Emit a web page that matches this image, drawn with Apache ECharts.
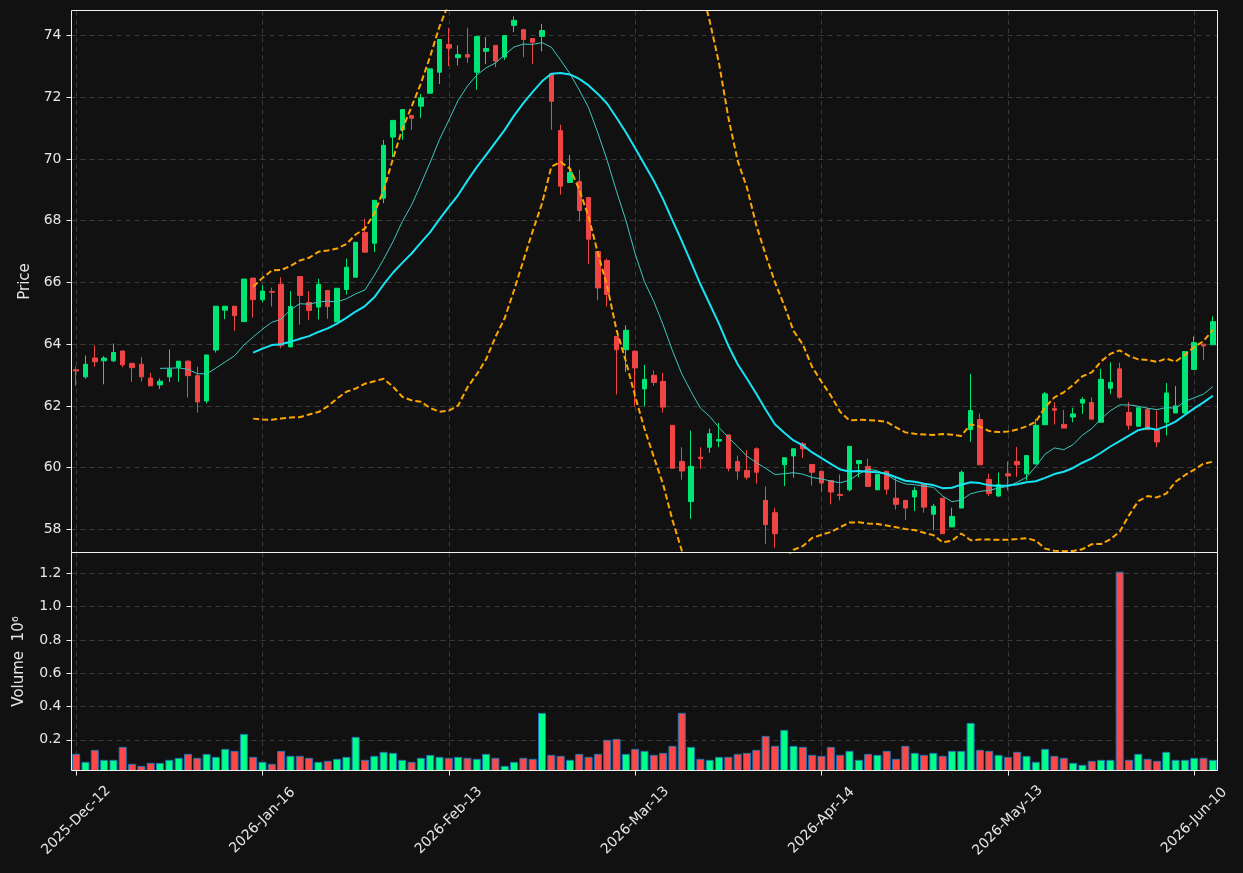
<!DOCTYPE html>
<html>
<head>
<meta charset="utf-8">
<script src="https://cdn.jsdelivr.net/npm/echarts@6/dist/echarts.min.js"></script>
<style>
html, body { margin: 0; padding: 0; background: #111111; }
#chart { width: 1243px; height: 873px; }
</style>
</head>
<body>
<div id="chart"></div>
<script>
// x tick labels, one every 20 sessions
const tickLabels = ['2025-Dec-12', '2026-Jan-16', '2026-Feb-13', '2026-Mar-13', '2026-Apr-14', '2026-May-13', '2026-Jun-10'];
const tickStep = 20;

// daily OHLC
const opens = [
  63.17, 62.94, 63.55, 63.46, 63.46, 63.78, 63.38, 63.35, 62.90, 62.68,
  62.94, 63.25, 63.45, 62.98, 62.16, 63.81, 65.10, 65.23, 64.73, 66.14,
  65.44, 65.71, 65.94, 63.91, 66.19, 65.35, 65.20, 65.74, 64.72, 65.77,
  66.17, 67.62, 67.27, 68.73, 70.71, 70.94, 71.41, 71.71, 72.13, 72.81,
  73.71, 73.28, 73.38, 72.81, 73.49, 73.68, 73.30, 74.33, 74.19, 73.90,
  73.97, 72.76, 70.92, 69.24, 69.27, 68.75, 67.00, 66.71, 64.25, 63.82,
  63.77, 62.55, 62.99, 62.79, 61.37, 60.20, 58.90, 60.34, 60.66, 60.86,
  61.06, 60.20, 59.91, 60.61, 58.94, 58.54, 60.09, 60.38, 60.77, 60.10,
  59.88, 59.58, 59.13, 59.28, 60.13, 60.04, 59.28, 59.88, 59.01, 58.94,
  59.05, 59.48, 58.49, 59.01, 58.08, 58.69, 61.23, 61.56, 59.62, 59.08,
  59.80, 60.20, 59.80, 60.12, 61.39, 61.91, 61.40, 61.64, 62.09, 62.11,
  61.47, 62.57, 63.20, 61.79, 61.34, 61.88, 61.20, 61.47, 61.77, 61.77,
  63.18, 64.00, 63.98
];
const highs = [
  63.27, 63.63, 63.96, 63.61, 64.02, 63.78, 63.38, 63.58, 63.07, 62.89,
  63.83, 63.45, 63.48, 63.27, 63.65, 65.23, 65.23, 65.23, 66.11, 66.14,
  65.91, 65.83, 66.17, 65.72, 66.19, 65.72, 66.12, 65.74, 65.81, 66.77,
  67.30, 68.06, 68.66, 70.62, 71.25, 71.60, 71.41, 72.11, 72.92, 73.87,
  74.25, 73.68, 74.25, 73.97, 73.95, 73.68, 74.00, 74.62, 74.19, 73.90,
  74.38, 72.76, 71.11, 70.13, 69.65, 68.75, 67.00, 66.77, 64.25, 64.61,
  63.80, 63.33, 63.15, 63.07, 61.37, 60.66, 61.20, 60.66, 61.26, 61.45,
  61.06, 60.39, 60.56, 60.66, 59.39, 58.70, 60.32, 60.61, 60.83, 60.10,
  59.88, 59.58, 59.78, 60.69, 60.23, 60.29, 59.78, 59.88, 59.70, 58.94,
  59.37, 59.48, 58.83, 59.01, 58.70, 59.91, 63.04, 61.75, 59.80, 59.84,
  60.20, 60.67, 60.39, 61.58, 62.45, 62.12, 61.87, 61.94, 62.28, 62.28,
  63.20, 63.41, 63.40, 62.12, 61.94, 61.94, 61.85, 62.74, 62.64, 63.76,
  64.25, 64.00, 64.90
];
const lows = [
  62.65, 62.88, 63.27, 62.70, 63.42, 63.25, 62.78, 62.79, 62.65, 62.55,
  62.78, 62.78, 62.27, 61.78, 62.08, 63.73, 64.81, 64.43, 64.73, 64.86,
  65.36, 65.22, 63.87, 63.91, 64.63, 64.79, 64.80, 64.82, 64.72, 65.61,
  66.17, 66.98, 66.98, 68.57, 70.06, 70.62, 70.94, 71.33, 72.13, 72.43,
  73.01, 73.03, 73.11, 72.24, 73.08, 72.97, 73.21, 74.11, 73.30, 73.08,
  73.49, 70.94, 68.84, 69.24, 67.98, 66.60, 65.42, 65.22, 62.37, 63.10,
  61.98, 61.98, 62.65, 61.78, 59.98, 59.61, 58.34, 59.96, 60.48, 60.66,
  59.88, 59.61, 59.61, 59.48, 57.53, 57.40, 59.40, 59.67, 60.31, 59.42,
  59.21, 58.81, 58.94, 59.23, 59.69, 59.39, 59.28, 59.12, 58.64, 58.31,
  58.59, 58.54, 57.97, 57.86, 58.08, 58.69, 60.84, 60.09, 59.08, 59.05,
  59.26, 59.70, 59.58, 60.12, 61.39, 61.40, 61.28, 61.47, 61.74, 61.57,
  61.47, 62.39, 62.23, 61.23, 61.34, 61.23, 60.66, 61.04, 61.77, 61.74,
  63.18, 63.49, 63.98
];
const closes = [
  63.13, 63.35, 63.43, 63.55, 63.73, 63.33, 63.24, 62.94, 62.65, 62.80,
  63.19, 63.45, 62.98, 62.13, 63.65, 65.23, 65.23, 64.92, 66.11, 65.44,
  65.72, 65.68, 63.96, 65.22, 65.58, 65.09, 65.94, 65.22, 65.81, 66.49,
  67.30, 66.98, 68.66, 70.44, 71.25, 71.60, 71.32, 71.98, 72.92, 73.87,
  73.59, 73.38, 73.30, 73.97, 73.58, 73.17, 74.00, 74.49, 73.87, 73.78,
  74.16, 71.87, 69.12, 69.56, 68.33, 67.40, 65.82, 65.61, 63.82, 64.45,
  63.23, 62.86, 62.76, 61.96, 59.98, 59.89, 60.04, 60.29, 61.10, 60.91,
  59.98, 59.89, 59.69, 59.85, 58.15, 57.86, 60.32, 60.61, 60.61, 59.85,
  59.50, 59.21, 59.10, 60.69, 60.23, 59.39, 59.78, 59.30, 58.81, 58.69,
  59.26, 58.72, 58.75, 57.86, 58.42, 59.85, 61.85, 60.09, 59.16, 59.45,
  59.73, 60.09, 60.39, 61.37, 62.39, 61.86, 61.28, 61.74, 62.21, 61.57,
  62.86, 62.76, 62.28, 61.37, 61.94, 61.23, 60.83, 62.42, 62.00, 63.76,
  64.05, 63.94, 64.73
];
// volume, millions
const volumes = [
  0.116, 0.068, 0.140, 0.080, 0.080, 0.158, 0.056, 0.044, 0.062, 0.062,
  0.080, 0.092, 0.116, 0.092, 0.116, 0.098, 0.146, 0.134, 0.236, 0.098,
  0.068, 0.056, 0.134, 0.104, 0.104, 0.092, 0.068, 0.074, 0.086, 0.098,
  0.218, 0.080, 0.104, 0.128, 0.122, 0.080, 0.068, 0.092, 0.110, 0.098,
  0.092, 0.098, 0.092, 0.086, 0.116, 0.092, 0.044, 0.068, 0.092, 0.086,
  0.362, 0.110, 0.104, 0.080, 0.116, 0.098, 0.116, 0.200, 0.206, 0.116,
  0.146, 0.134, 0.110, 0.122, 0.164, 0.362, 0.158, 0.086, 0.080, 0.098,
  0.098, 0.116, 0.122, 0.140, 0.224, 0.164, 0.260, 0.164, 0.158, 0.110,
  0.104, 0.158, 0.110, 0.134, 0.080, 0.116, 0.110, 0.134, 0.086, 0.164,
  0.122, 0.110, 0.122, 0.104, 0.134, 0.134, 0.302, 0.140, 0.134, 0.110,
  0.098, 0.128, 0.104, 0.068, 0.146, 0.104, 0.092, 0.062, 0.050, 0.074,
  0.080, 0.080, 1.210, 0.080, 0.116, 0.086, 0.074, 0.128, 0.080, 0.080,
  0.092, 0.092, 0.080
];

const UP = '#00e676', DOWN = '#ef4545';
const VOL_UP = '#00ff88', VOL_DOWN = '#ff4747';
const TEXT = '#e6e6e6', FRAME = '#f0f0f0', GRID = '#3a3a3a';

// moving averages and bollinger bands from closes
function sma(arr, n) {
  return arr.map((_, i) => {
    if (i < n - 1) return null;
    let s = 0;
    for (let k = i - n + 1; k <= i; k++) s += arr[k];
    return s / n;
  });
}
function band(arr, n, mult, sign) {
  const m = sma(arr, n);
  return arr.map((_, i) => {
    if (m[i] === null) return null;
    let s = 0;
    for (let k = i - n + 1; k <= i; k++) s += (arr[k] - m[i]) ** 2;
    return m[i] + sign * mult * Math.sqrt(s / (n - 1));
  });
}
const ma10 = sma(closes, 10);
const ma20 = sma(closes, 20);
const bbUpper = band(closes, 20, 2, 1);
const bbLower = band(closes, 20, 2, -1);

const categories = closes.map((_, i) => String(i));
const candles = closes.map((c, i) => [opens[i], c, lows[i], highs[i]]);
const volBars = volumes.map((v, i) => ({
  value: v,
  itemStyle: { color: closes[i] >= opens[i] ? VOL_UP : VOL_DOWN }
}));

const splitLine = { show: true, interval: tickStep - 1, alignWithLabel: true, lineStyle: { color: GRID, type: [5, 4], width: 1 } };
const font = 'DejaVu Sans';

const chart = echarts.init(document.getElementById('chart'));
chart.setOption({
  backgroundColor: '#111111',
  animation: false,
  grid: [
    { left: 71.5, right: 25.5, top: 10.5, height: 542, show: true, borderColor: FRAME, borderWidth: 1, z: 5 },
    { left: 71.5, right: 25.5, top: 552.5, height: 218, show: true, borderColor: FRAME, borderWidth: 1, z: 5 }
  ],
  xAxis: [
    {
      type: 'category', gridIndex: 0, data: categories, boundaryGap: true,
      axisLine: { show: false }, axisTick: { show: false }, axisLabel: { show: false },
      splitLine: splitLine
    },
    {
      type: 'category', gridIndex: 1, data: categories, boundaryGap: true,
      axisLine: { show: false },
      axisTick: { show: true, alignWithLabel: true, interval: tickStep - 1, length: 5, lineStyle: { color: FRAME } },
      axisLabel: {
        interval: tickStep - 1, rotate: 45, align: 'center', verticalAlign: 'middle', margin: 50,
        color: TEXT, fontSize: 14, fontFamily: font,
        formatter: (v, i) => tickLabels[i / tickStep]
      },
      splitLine: splitLine
    }
  ],
  yAxis: [
    {
      type: 'value', gridIndex: 0, min: 57.25, max: 74.81, splitNumber: 8,
      axisLine: { show: false },
      axisTick: { show: true, length: 5, lineStyle: { color: FRAME } },
      axisLabel: {
        color: TEXT, fontSize: 14, fontFamily: font, margin: 10, showMinLabel: false, showMaxLabel: false,
        formatter: v => (Number.isInteger(v) && v % 2 === 0) ? String(v) : ''
      },
      splitLine: { show: true, lineStyle: { color: GRID, type: [5, 4], width: 1 } },
      name: 'Price', nameLocation: 'middle', nameGap: 38,
      nameTextStyle: { color: TEXT, fontSize: 15, fontFamily: font }
    },
    {
      type: 'value', gridIndex: 1, min: 0.016, max: 1.325, splitNumber: 6,
      axisLine: { show: false },
      axisTick: { show: true, length: 5, lineStyle: { color: FRAME } },
      axisLabel: {
        color: TEXT, fontSize: 14, fontFamily: font, margin: 10, showMinLabel: false, showMaxLabel: false,
        formatter: v => Math.abs(v * 5 - Math.round(v * 5)) < 1e-6 ? v.toFixed(1) : ''
      },
      splitLine: { show: true, lineStyle: { color: GRID, type: [5, 4], width: 1 } },
      name: 'Volume  10⁶', nameLocation: 'middle', nameGap: 45,
      nameTextStyle: { color: TEXT, fontSize: 15, fontFamily: font }
    }
  ],
  series: [
    {
      name: 'OHLC', type: 'candlestick', xAxisIndex: 0, yAxisIndex: 0,
      data: candles, barWidth: 5,
      itemStyle: { color: UP, color0: DOWN, borderColor: UP, borderColor0: DOWN, borderWidth: 1 }
    },
    {
      name: 'MA10', type: 'line', xAxisIndex: 0, yAxisIndex: 0, data: ma10,
      showSymbol: false, lineStyle: { color: '#3cc8c0', width: 1 }, z: 3
    },
    {
      name: 'MA20', type: 'line', xAxisIndex: 0, yAxisIndex: 0, data: ma20,
      showSymbol: false, lineStyle: { color: '#16e4f5', width: 2 }, z: 3
    },
    {
      name: 'BB upper', type: 'line', xAxisIndex: 0, yAxisIndex: 0, data: bbUpper,
      showSymbol: false, lineStyle: { color: '#ffa500', width: 2, type: [6, 3] }, z: 3
    },
    {
      name: 'BB lower', type: 'line', xAxisIndex: 0, yAxisIndex: 0, data: bbLower,
      showSymbol: false, lineStyle: { color: '#ffa500', width: 2, type: [6, 3] }, z: 3
    },
    {
      name: 'Volume', type: 'bar', xAxisIndex: 1, yAxisIndex: 1, data: volBars,
      barWidth: 8, clip: true,
      itemStyle: { borderColor: '#1f77b4', borderWidth: 1 }
    }
  ]
});
</script>
</body>
</html>
